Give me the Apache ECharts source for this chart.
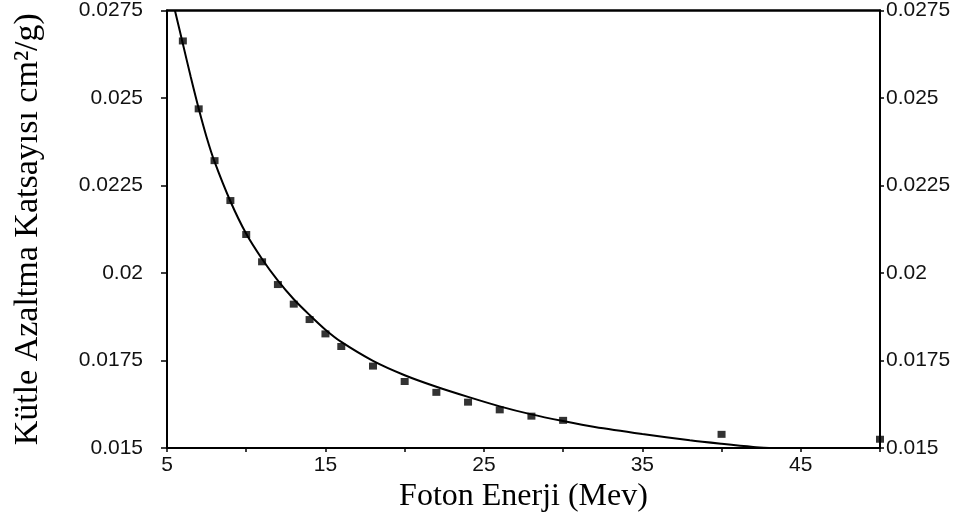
<!DOCTYPE html>
<html>
<head>
<meta charset="utf-8">
<script src="https://cdn.jsdelivr.net/npm/echarts@6/dist/echarts.min.js"></script>
<style>
  html, body { margin: 0; padding: 0; background: #fff; }
  #chart { width: 963px; height: 522px; }
</style>
</head>
<body>
<div id="chart"></div>
<script>
// measured points (photon energy MeV, mass attenuation cm2/g)
const energy = [6, 7, 8, 9, 10, 11, 12, 13, 14, 15, 16, 18, 20, 22, 24, 26, 28, 30, 40, 50]
const measured = [0.02663, 0.02469, 0.02321, 0.02207, 0.0211, 0.02032, 0.01967, 0.01911, 0.01867,
  0.01826, 0.0179, 0.01734, 0.0169, 0.01659, 0.01631, 0.01609, 0.01591, 0.01579, 0.01539, 0.01525]

// fitted curve
const fitX = [5.5, 6, 6.5, 7, 7.5, 8, 9, 10, 11, 12, 13, 14, 15, 16, 18, 20, 22, 24, 26, 28, 30, 32, 35, 38, 40, 42, 43]
const fitY = [0.0275, 0.02655, 0.0256, 0.0247, 0.02388, 0.02318, 0.02205, 0.02112, 0.0204, 0.01978, 0.01925, 0.0188,
  0.01838, 0.01803, 0.01749, 0.01708, 0.01675, 0.01646, 0.01619, 0.01596, 0.01577, 0.0156, 0.0154,
  0.01522, 0.01512, 0.01503, 0.015]

const xLabels = [5, 15, 25, 35, 45]
const yTicks = [0.015, 0.0175, 0.02, 0.0225, 0.025, 0.0275]

const chart = echarts.init(document.getElementById('chart'))

const yLabelFmt = v => {
  const hit = yTicks.find(t => Math.abs(t - v) < 1e-9)
  return hit === undefined ? '' : String(hit)
}

const yAxisBase = {
  type: 'value',
  min: 0.015,
  max: 0.0275,
  interval: 0.0025,
  splitLine: { show: false },
  axisLine: { show: true, lineStyle: { color: '#000', width: 2 } },
  axisTick: { show: true, length: 6, lineStyle: { color: '#000', width: 1.5 } },
  axisLabel: {
    color: '#111',
    fontFamily: 'Liberation Sans, Arial, sans-serif',
    fontSize: 21,
    formatter: yLabelFmt
  }
}

chart.setOption({
  animation: false,
  backgroundColor: '#fff',
  grid: { left: 167, right: 83, top: 6, bottom: 74 },
  xAxis: [
    {
      type: 'value',
      min: 5,
      max: 50,
      interval: 5,
      name: 'Foton Enerji (Mev)',
      nameLocation: 'middle',
      nameGap: 31,
      nameTextStyle: {
        color: '#000',
        fontFamily: 'Liberation Serif, Times New Roman, serif',
        fontSize: 32,
        verticalAlign: 'top'
      },
      splitLine: { show: false },
      axisLine: { show: true, onZero: false, lineStyle: { color: '#000', width: 2 } },
      axisTick: { show: true, length: 4, lineStyle: { color: '#000', width: 1.5 } },
      axisLabel: {
        color: '#111',
        fontFamily: 'Liberation Sans, Arial, sans-serif',
        fontSize: 21,
        margin: 7,
        formatter: v => (xLabels.includes(v) ? String(v) : '')
      }
    },
    {
      type: 'value',
      position: 'top',
      min: 5,
      max: 50,
      splitLine: { show: false },
      axisLine: { show: true, onZero: false, lineStyle: { color: '#000', width: 2.5 } },
      axisTick: { show: false },
      axisLabel: { show: false }
    }
  ],
  yAxis: [
    Object.assign({}, yAxisBase, {
      position: 'left',
      name: 'Kütle Azaltma Katsayısı cm²/g)',
      nameLocation: 'middle',
      nameRotate: 90,
      nameGap: 122,
      nameTextStyle: {
        color: '#000',
        fontFamily: 'Liberation Serif, Times New Roman, serif',
        fontSize: 34
      },
      axisLabel: Object.assign({}, yAxisBase.axisLabel, { margin: 24 })
    }),
    Object.assign({}, yAxisBase, {
      position: 'right',
      axisTick: { show: true, length: 4, lineStyle: { color: '#000', width: 1.5 } },
      axisLabel: Object.assign({}, yAxisBase.axisLabel, { margin: 6 })
    })
  ],
  series: [
    {
      name: 'fit',
      type: 'line',
      smooth: 0.3,
      showSymbol: false,
      lineStyle: { color: '#000', width: 2 },
      data: fitX.map((x, i) => [x, fitY[i]]),
      z: 2
    },
    {
      name: 'measured',
      type: 'scatter',
      symbol: 'rect',
      symbolSize: [8, 7],
      itemStyle: { color: '#000' },
      data: energy.map((x, i) => [x, measured[i]]),
      clip: false,
      z: 3
    }
  ]
})
</script>
</body>
</html>
